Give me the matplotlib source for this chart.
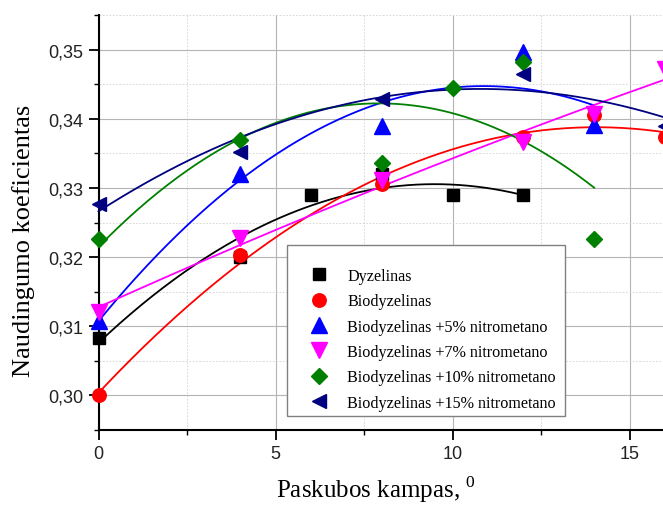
import numpy as np
import matplotlib
matplotlib.use("Agg")
import matplotlib.pyplot as plt
from matplotlib.ticker import MultipleLocator, FixedLocator, FixedFormatter
from matplotlib.patches import Rectangle

plt.rcParams['mathtext.fontset'] = 'custom'
plt.rcParams['mathtext.rm'] = 'Liberation Serif'

# ---- data ----
labels = ["Dyzelinas", "Biodyzelinas", "Biodyzelinas +5% nitrometano",
          "Biodyzelinas +7% nitrometano", "Biodyzelinas +10% nitrometano",
          "Biodyzelinas +15% nitrometano"]

x_dyz = [0, 4, 6, 8, 10, 12]
y_dyz = [0.3083, 0.3200, 0.3290, 0.3320, 0.3290, 0.3290]

x_bio = [0, 4, 8, 12, 14, 16]
y_bio = [0.3000, 0.3203, 0.3305, 0.3373, 0.3405, 0.3373]

x_n5 = [0, 4, 8, 12, 14]
y_n5 = [0.3108, 0.3320, 0.3390, 0.3496, 0.3391]

x_n7 = [0, 4, 8, 12, 14, 16]
y_n7 = [0.3121, 0.3227, 0.3312, 0.3367, 0.3407, 0.3472]

x_n10 = [0, 4, 8, 10, 12, 14]
y_n10 = [0.3226, 0.3370, 0.3336, 0.3444, 0.3482, 0.3226]

x_n15 = [0, 4, 8, 12, 16]
y_n15 = [0.3277, 0.3352, 0.3429, 0.3465, 0.3390]

y_ticks = [0.30, 0.31, 0.32, 0.33, 0.34, 0.35]
y_tick_labels = ["0,30", "0,31", "0,32", "0,33", "0,34", "0,35"]
x_ticks = [0, 5, 10, 15]
x_tick_labels = ["0", "5", "10", "15"]

series = [
    (x_dyz, y_dyz, 'black', 's', 8.4),
    (x_bio, y_bio, '#ff0000', 'o', 9.7),
    (x_n5, y_n5, '#0000ff', '^', 11.0),
    (x_n7, y_n7, '#ff00ff', 'v', 11.0),
    (x_n10, y_n10, '#008000', 'D', 8.4),
    (x_n15, y_n15, '#000080', '<', 10.5),
]

fig = plt.figure(figsize=(6.63, 5.06), dpi=100)
ax = fig.add_axes([98.5/663, 1-431/506, (665-98.5)/663, (431-16)/506])

handles = []
for (xs, ys, col, mk, ms), lab in zip(series, labels):
    xs = np.asarray(xs, float); ys = np.asarray(ys, float)
    coef = np.polyfit(xs, ys, 2)
    xx = np.linspace(xs.min(), xs.max(), 200)
    ax.plot(xx, np.polyval(coef, xx), color=col, lw=1.3, zorder=3, clip_on=False)
for (xs, ys, col, mk, ms), lab in zip(series, labels):
    h, = ax.plot(xs, ys, ls='none', marker=mk, color=col, ms=ms, mec=col,
                 zorder=4, clip_on=False, label=lab)
    handles.append(h)

ax.set_xlim(0, 16)
ax.set_ylim(0.295, 0.355)
ax.xaxis.set_major_locator(FixedLocator(x_ticks))
ax.xaxis.set_major_formatter(FixedFormatter(x_tick_labels))
ax.xaxis.set_minor_locator(MultipleLocator(2.5))
ax.yaxis.set_major_locator(FixedLocator(y_ticks))
ax.yaxis.set_major_formatter(FixedFormatter(y_tick_labels))
ax.yaxis.set_minor_locator(MultipleLocator(0.005))

ax.grid(which='major', color='#b4b4b4', lw=0.8, ls='-', zorder=0)
ax.grid(which='minor', color='#d0d0d0', lw=0.6, ls=(0, (2, 2)), zorder=0)
ax.set_axisbelow(True)

for s in ['top', 'right']:
    ax.spines[s].set_visible(False)
for s in ['left', 'bottom']:
    ax.spines[s].set_linewidth(1.5)

ax.tick_params(which='major', direction='out', length=7, width=1.3,
               labelsize=13, pad=4, labelcolor='#222222')
ax.tick_params(which='minor', direction='out', length=3.5, width=1.0)
for t in ax.get_xticklabels() + ax.get_yticklabels():
    t.set_fontfamily('Liberation Sans')

fig.text(24/663, 1-241/506, "Naudingumo koeficientas", rotation=90,
         ha='center', va='center', fontsize=19, family='Liberation Serif')
fig.text(376/663, 1-498/506, "Paskubos kampas, $^{0}$", ha='center',
         va='baseline', fontsize=18, family='Liberation Serif')

# legend frame
rect = Rectangle((287/663, 1-417/506), 278/663, 171/506,
                 transform=fig.transFigure, facecolor='white',
                 edgecolor='#808080', lw=1.0, zorder=5)
fig.patches.append(rect)

leg = fig.legend(handles=handles, loc='upper left',
                 bbox_to_anchor=(306/663, 1-269/506),
                 bbox_transform=fig.transFigure, frameon=False,
                 borderpad=0, borderaxespad=0, handlelength=1.6,
                 handletextpad=0.96, labelspacing=0.58,
                 prop={'family': 'Liberation Serif', 'size': 11.6})
leg.set_zorder(6)

fig.savefig("out.png", dpi=100)
